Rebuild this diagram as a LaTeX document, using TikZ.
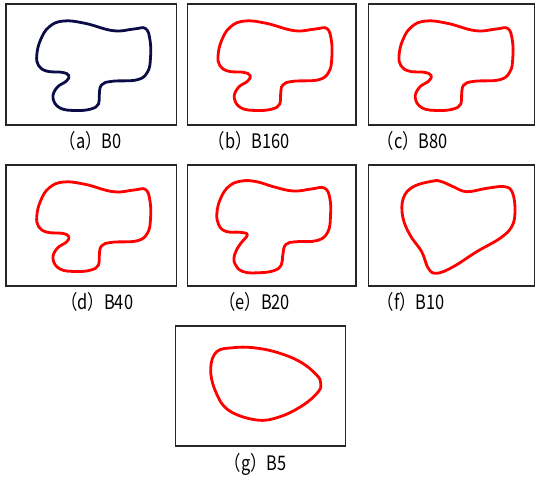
\documentclass[tikz,border=0pt]{standalone}
\usepackage{fontspec}
\newfontfamily\labfont[FakeStretch=0.82]{Noto Sans CJK KR}
\definecolor{navyline}{RGB}{12,12,72}
\newcommand\shapeApath{plot[smooth cycle, tension=0.7] coordinates {
(63.3,21) (85,23.3) (113.3,30.7) (134,29) (145.5,28.5)
(150,40) (150.5,58) (147.5,72) (137,79.8) (112,81.3) (101.5,85)
(99.3,95) (98.5,104) (91,109) (76,110.5) (60,108) (53,98)
(57,87.5) (66.5,81) (68.8,75.5) (62,72.3) (47,71.2) (38.5,65.5)
(36.8,55) (40.5,40) (49,27)}}
\newcommand\shapeEpath{plot[smooth cycle, tension=0.7] coordinates {
(60.4,20) (75.4,20.7) (92,25.7) (112,30) (130,28) (143,27)
(148.5,37) (149.2,55) (146.5,71) (136,79.5) (115,80.7) (104.5,83.5)
(101.5,94) (100,104) (93,109.5) (78.7,111.7) (62,110.7) (53.7,103)
(53.5,93) (59,83) (66,73.8) (58.7,71.3) (45,70.5) (37.5,64)
(35.6,52) (39.5,37) (48,25)}}
\begin{document}
\begin{tikzpicture}[x=1pt,y=-1pt,
  frame/.style={draw=black!85, line width=1.1pt},
  blob/.style={line width=2.8pt, line join=round},
  sublabel/.style={inner sep=0pt, anchor=base west, font=\labfont\fontsize{20}{22}\selectfont}]
\useasboundingbox (0,0) rectangle (535,477);
% frames
\draw[frame] (6,4) rectangle (176.5,125);
\draw[frame] (187.3,4) rectangle (356,125);
\draw[frame] (368.3,4) rectangle (534.4,125);
\draw[frame] (6,165) rectangle (176.5,286);
\draw[frame] (187.3,165) rectangle (356,286);
\draw[frame] (368.3,165) rectangle (534.4,286);
\draw[frame] (175.7,326) rectangle (345.7,446);
% shapes
\draw[blob, navyline] \shapeApath;
\draw[blob, red, shift={(181.3,0)}] \shapeApath;
\draw[blob, red, shift={(362.3,0)}] \shapeApath;
\draw[blob, red, shift={(0,161)}] \shapeApath;
\draw[blob, red, shift={(181.3,161)}] \shapeEpath;
\draw[blob, red] plot[smooth cycle, tension=0.65] coordinates {
(433.3,181) (441.7,181.7) (453.3,186.7) (466.7,191.7) (486.7,188.3) (505,186.7) (512.7,193.3)
(515,211.7) (511.7,226.7) (500,238.3) (476.7,251.7) (453.3,266.7) (436.7,273.3) (428.3,268.3)
(421.7,251.7) (410,235) (402.7,216.7) (403.3,198.3) (413.3,186.7)};
\draw[blob, red] plot[smooth cycle, tension=0.65] coordinates {
(233.3,347.7) (253.3,347.7) (276.7,352.3) (300,361.7) (316.7,375) (320.7,383.3) (318.3,391.7)
(303.3,405) (280,416.7) (256.7,420) (228.3,410) (215,390) (210.7,368.3) (216.7,351.7)};
% labels
\node[sublabel] (la) at (59.5,148) {（a）B0};
\node[sublabel] (lb) at (208.5,148) {（b）B160};
\node[sublabel] (lc) at (377.5,148) {（c）B80};
\node[sublabel] (ld) at (61,309) {（d）B40};
\node[sublabel] (le) at (219,309) {（e）B20};
\node[sublabel] (lf) at (377.5,309) {（f）B10};
\node[sublabel] (lg) at (224.5,470) {（g）B5};
\end{tikzpicture}
\end{document}
